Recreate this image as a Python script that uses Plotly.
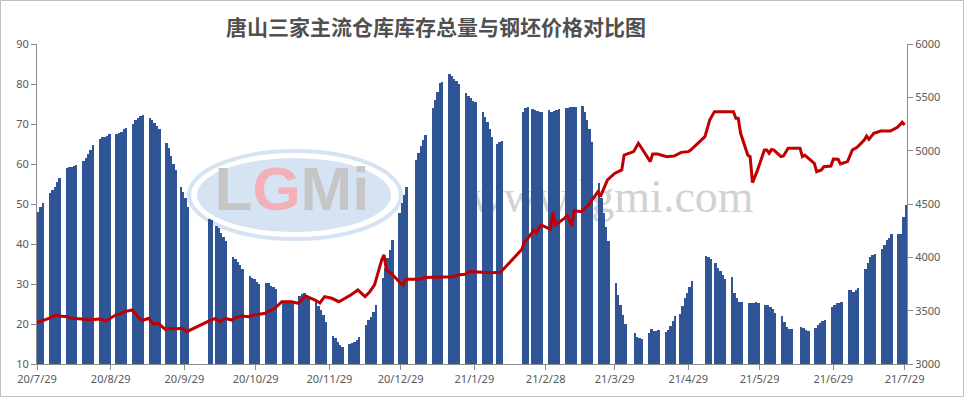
import pandas as pd
import plotly.graph_objects as go

# ---------------- data ----------------
title_text = "唐山三家主流仓库库存总量与钢坯价格对比图"

# inventory bars: runs of consecutive working days (start date, values)
stock_runs = [
    ("2020-07-29", [48.0, 49.2, 50.2]),
    ("2020-08-03", [52.7, 53.5, 54.3, 55.4, 56.5]),
    ("2020-08-10", [58.9, 59.2, 59.3, 59.4, 59.7]),
    ("2020-08-17", [60.7, 61.5, 62.6, 63.6, 64.7]),
    ("2020-08-24", [66.2, 66.7, 66.7, 66.9, 67.4]),
    ("2020-08-31", [67.4, 67.7, 68.1, 68.7, 68.9]),
    ("2020-09-07", [69.9, 70.9, 71.6, 72.0, 72.2]),
    ("2020-09-14", [71.4, 71.0, 70.2, 69.4, 68.7]),
    ("2020-09-21", [65.2, 63.9, 61.9, 59.9, 58.5]),
    ("2020-09-27", [54.3, 53.1, 51.4, 49.3]),
    ("2020-10-09", [46.3, 46.1]),
    ("2020-10-12", [44.6, 43.9, 42.8, 41.8, 40.8]),
    ("2020-10-19", [36.8, 36.2, 35.6, 34.8, 33.7]),
    ("2020-10-26", [32.0, 31.6, 31.2, 30.4, 29.9]),
    ("2020-11-02", [30.2, 30.2, 29.5, 29.2, 28.8]),
    ("2020-11-09", [25.4, 25.5, 25.6, 25.6, 25.5]),
    ("2020-11-16", [27.1, 27.5, 27.7, 27.3, 26.8]),
    ("2020-11-23", [25.5, 24.6, 23.5, 22.2, 20.5]),
    ("2020-11-30", [17.0, 16.4, 15.6, 14.8, 14.3]),
    ("2020-12-07", [15.0, 15.3, 15.6, 16.0, 16.8]),
    ("2020-12-14", [19.8, 21.0, 21.8, 23.1, 24.8]),
    ("2020-12-21", [31.4, 34.0, 36.5, 38.5, 41.0]),
    ("2020-12-28", [47.7, 50.2, 52.2, 54.3]),
    ("2021-01-04", [61.0, 62.7, 64.5, 66.0, 67.2]),
    ("2021-01-11", [73.9, 76.0, 78.1, 80.2, 80.6]),
    ("2021-01-18", [82.5, 82.0, 81.3, 80.7, 80.0]),
    ("2021-01-25", [77.8, 77.0, 76.4, 75.8, 75.5]),
    ("2021-02-01", [73.1, 71.7, 70.5, 68.7, 66.8]),
    ("2021-02-07", [65.0, 65.6, 65.8]),
    ("2021-02-18", [73.1, 73.9, 74.2]),
    ("2021-02-22", [73.8, 73.5, 73.3, 73.1, 73.1]),
    ("2021-03-01", [73.5, 73.1, 73.3, 73.5, 73.7]),
    ("2021-03-08", [73.9, 73.9, 74.2, 74.3, 74.2]),
    ("2021-03-15", [74.5, 73.1, 71.0, 68.7, 65.6]),
    ("2021-03-22", [55.3, 51.5, 47.7, 44.3, 40.8]),
    ("2021-03-29", [30.2, 27.2, 24.8, 22.2, 20.0]),
    ("2021-04-06", [17.7, 16.8, 16.4, 16.2]),
    ("2021-04-12", [17.8, 18.7, 18.2, 18.3, 18.5]),
    ("2021-04-19", [18.1, 18.6, 19.4, 20.8, 22.0]),
    ("2021-04-25", [22.5, 24.4, 26.6, 27.7, 29.3, 30.8]),
    ("2021-05-06", [37.0, 36.8, 36.3]),
    ("2021-05-10", [35.3, 34.1, 33.2, 32.2, 31.2]),
    ("2021-05-17", [31.7, 27.7, 26.4, 25.6, 25.4]),
    ("2021-05-24", [25.2, 25.2, 25.3, 25.5, 25.3]),
    ("2021-05-31", [24.8, 24.8, 24.3, 23.7, 22.8]),
    ("2021-06-07", [22.0, 20.6, 19.3, 18.7, 18.7]),
    ("2021-06-15", [19.3, 19.1, 18.6, 18.2]),
    ("2021-06-21", [19.1, 19.8, 20.2, 20.8, 21.0]),
    ("2021-06-28", [24.2, 24.8, 25.2, 25.3, 25.6]),
    ("2021-07-05", [28.5, 28.5, 28.1, 28.5, 28.9]),
    ("2021-07-12", [33.7, 35.3, 36.7, 37.2, 37.4]),
    ("2021-07-19", [38.7, 39.8, 41.0, 41.6, 42.5]),
    ("2021-07-26", [42.5, 42.5, 46.7, 49.8]),
]

# billet price line (date, yuan/t)
price_points = [
    ("2020-07-29", 3388), ("2020-07-31", 3403), ("2020-08-03", 3428), ("2020-08-06", 3459),
    ("2020-08-07", 3450), ("2020-08-11", 3444), ("2020-08-12", 3428), ("2020-08-17", 3422),
    ("2020-08-20", 3412), ("2020-08-24", 3422), ("2020-08-25", 3419), ("2020-08-27", 3403),
    ("2020-08-31", 3459), ("2020-09-02", 3469), ("2020-09-04", 3491), ("2020-09-07", 3506),
    ("2020-09-09", 3459), ("2020-09-11", 3406), ("2020-09-14", 3428), ("2020-09-16", 3375),
    ("2020-09-18", 3381), ("2020-09-21", 3325), ("2020-09-23", 3334), ("2020-09-25", 3328),
    ("2020-09-28", 3334), ("2020-09-30", 3303), ("2020-10-09", 3400), ("2020-10-12", 3428),
    ("2020-10-14", 3397), ("2020-10-16", 3428), ("2020-10-19", 3412), ("2020-10-21", 3440),
    ("2020-10-23", 3450), ("2020-10-26", 3444), ("2020-10-28", 3459), ("2020-11-02", 3475),
    ("2020-11-04", 3500), ("2020-11-06", 3522), ("2020-11-09", 3584), ("2020-11-13", 3584),
    ("2020-11-16", 3569), ("2020-11-19", 3637), ("2020-11-23", 3600), ("2020-11-25", 3572),
    ("2020-11-27", 3631), ("2020-11-30", 3616), ("2020-12-03", 3584), ("2020-12-07", 3631),
    ("2020-12-08", 3647), ("2020-12-11", 3694), ("2020-12-14", 3631), ("2020-12-16", 3678),
    ("2020-12-18", 3741), ("2020-12-21", 3975), ("2020-12-22", 4022), ("2020-12-23", 3881),
    ("2020-12-25", 3850), ("2020-12-29", 3756), ("2020-12-30", 3741), ("2020-12-31", 3794),
    ("2021-01-06", 3794), ("2021-01-08", 3812), ("2021-01-14", 3812), ("2021-01-20", 3819),
    ("2021-01-22", 3834), ("2021-01-25", 3841), ("2021-01-27", 3866), ("2021-02-01", 3859),
    ("2021-02-05", 3856), ("2021-02-09", 3859), ("2021-02-18", 4075), ("2021-02-19", 4147),
    ("2021-02-20", 4162), ("2021-02-23", 4256), ("2021-02-24", 4231), ("2021-02-26", 4303),
    ("2021-03-02", 4262), ("2021-03-03", 4419), ("2021-03-04", 4303), ("2021-03-08", 4366),
    ("2021-03-09", 4397), ("2021-03-11", 4294), ("2021-03-12", 4437), ("2021-03-15", 4428),
    ("2021-03-18", 4491), ("2021-03-22", 4616), ("2021-03-23", 4569), ("2021-03-26", 4725),
    ("2021-03-29", 4787), ("2021-04-01", 4819), ("2021-04-02", 4959), ("2021-04-06", 4991),
    ("2021-04-08", 5069), ("2021-04-09", 5037), ("2021-04-13", 4897), ("2021-04-14", 4969),
    ("2021-04-16", 4969), ("2021-04-20", 4944), ("2021-04-23", 4950), ("2021-04-26", 4984),
    ("2021-04-29", 4991), ("2021-04-30", 5006), ("2021-05-06", 5131), ("2021-05-08", 5287),
    ("2021-05-10", 5366), ("2021-05-18", 5366), ("2021-05-19", 5303), ("2021-05-20", 5303),
    ("2021-05-21", 5163), ("2021-05-24", 4959), ("2021-05-25", 4944), ("2021-05-26", 4700),
    ("2021-05-28", 4810), ("2021-05-31", 5006), ("2021-06-01", 5006), ("2021-06-02", 4975),
    ("2021-06-03", 5012), ("2021-06-04", 5006), ("2021-06-07", 4944), ("2021-06-08", 4950),
    ("2021-06-10", 5022), ("2021-06-15", 5022), ("2021-06-16", 4944), ("2021-06-17", 4959),
    ("2021-06-21", 4881), ("2021-06-22", 4803), ("2021-06-24", 4819), ("2021-06-25", 4850),
    ("2021-06-28", 4856), ("2021-06-29", 4922), ("2021-07-01", 4919), ("2021-07-02", 4875),
    ("2021-07-05", 4897), ("2021-07-07", 5006), ("2021-07-08", 5022), ("2021-07-09", 5031),
    ("2021-07-12", 5100), ("2021-07-13", 5137), ("2021-07-14", 5106), ("2021-07-16", 5162),
    ("2021-07-19", 5184), ("2021-07-23", 5184), ("2021-07-26", 5219), ("2021-07-27", 5241),
    ("2021-07-28", 5266), ("2021-07-29", 5241),
]

tick_dates = ["2020-07-29", "2020-08-29", "2020-09-29", "2020-10-29", "2020-11-29",
              "2020-12-29", "2021-01-29", "2021-02-28", "2021-03-29", "2021-04-29",
              "2021-05-29", "2021-06-29", "2021-07-29"]
tick_labels = ["20/7/29", "20/8/29", "20/9/29", "20/10/29", "20/11/29", "20/12/29",
               "21/1/29", "21/2/28", "21/3/29", "21/4/29", "21/5/29", "21/6/29", "21/7/29"]

# ---------------- build ----------------
bar_x, bar_y = [], []
for start, vals in stock_runs:
    ds = pd.date_range(start, periods=len(vals), freq="D")
    bar_x.extend(ds)
    bar_y.extend(vals)

price_x = [pd.Timestamp(d) for d, _ in price_points]
price_y = [v for _, v in price_points]

DAY_MS = 86400000
BAR_COLOR = "#2F5597"
LINE_COLOR = "#C00000"
AXIS_COLOR = "#8C8C8C"
TXT = "#595959"

L, R, T, B = 37, 57, 44, 33
W, H = 964, 397
PW, PH = W - L - R, H - T - B


def px_x(px):
    return (px - L) / PW


def px_y(py):
    return (H - B - py) / PH


fig = go.Figure()

# watermark on a hidden base subplot (drawn beneath the data subplots)
fig.add_trace(go.Scatter(
    x=[px_x(612)], y=[px_y(200)], xaxis="x", yaxis="y", mode="text", text=["www.lgmi.com"],
    textfont=dict(family="Liberation Serif", size=46, color="#d2d2d2"),
    hoverinfo="skip", showlegend=False))
fig.add_trace(go.Scatter(
    x=[px_x(292)], y=[px_y(194)], xaxis="x", yaxis="y", mode="text",
    text=["<b>L<span style='fill:#f2b1b8'>G</span>Mi</b>"],
    textfont=dict(family="Liberation Sans", size=62, color="#c6c6c6"),
    hoverinfo="skip", showlegend=False))

fig.add_trace(go.Bar(
    x=bar_x, y=bar_y, xaxis="x2", yaxis="y2", width=DAY_MS, offset=0,
    marker=dict(color=BAR_COLOR, line=dict(width=0)),
    name="库存总量", showlegend=False))

fig.add_trace(go.Scatter(
    x=price_x, y=price_y, xaxis="x2", yaxis="y3", mode="lines",
    line=dict(color=LINE_COLOR, width=3),
    name="钢坯价格", showlegend=False))

axis_common = dict(showline=True, linecolor=AXIS_COLOR, linewidth=1,
                   ticks="outside", ticklen=5, tickcolor=AXIS_COLOR,
                   showgrid=False, zeroline=False,
                   tickfont=dict(family="Noto Sans", size=11, color=TXT))

fig.update_layout(
    width=W, height=H,
    margin=dict(l=L, r=R, t=T, b=B),
    paper_bgcolor="white", plot_bgcolor="rgba(0,0,0,0)",
    bargap=0, showlegend=False,
    font=dict(family="Noto Sans, Noto Sans CJK SC", size=11, color=TXT),
    xaxis=dict(range=[0, 1], visible=False, fixedrange=True),
    yaxis=dict(range=[0, 1], visible=False, fixedrange=True),
    xaxis2=dict(
        type="date", range=["2020-07-29", "2021-07-30"], overlaying="x", anchor="y2",
        side="bottom", tickvals=tick_dates, ticktext=tick_labels, **axis_common),
    yaxis2=dict(range=[10, 90], dtick=10, tick0=10, overlaying="y", anchor="x2",
                side="left", **axis_common),
    yaxis3=dict(range=[3000, 6000], dtick=500, tick0=3000, overlaying="y", anchor="x2",
                side="right", **axis_common),
    annotations=[dict(
        text="<b>" + title_text + "</b>",
        xref="paper", yref="paper", x=px_x(436), y=px_y(26),
        xanchor="center", yanchor="middle", showarrow=False,
        font=dict(family="Noto Sans CJK SC", size=21, color="#505050"),
    )],
    shapes=[
        # watermark logo ellipse
        dict(type="circle", xref="paper", yref="paper", layer="below",
             x0=px_x(189), x1=px_x(401), y0=px_y(239), y1=px_y(151),
             line=dict(color="rgba(208,224,241,0.9)", width=4),
             fillcolor="rgba(255,255,255,0)"),
        dict(type="circle", xref="paper", yref="paper", layer="below",
             x0=px_x(197), x1=px_x(391), y0=px_y(232), y1=px_y(158),
             line=dict(width=0), fillcolor="rgba(200,218,237,0.75)"),
        # chart border
        dict(type="rect", xref="paper", yref="paper", layer="above",
             x0=px_x(0.5), x1=px_x(963.5), y0=px_y(396.5), y1=px_y(0.5),
             line=dict(color="#BFBFBF", width=1)),
    ],
)

fig.write_html("out.html")
